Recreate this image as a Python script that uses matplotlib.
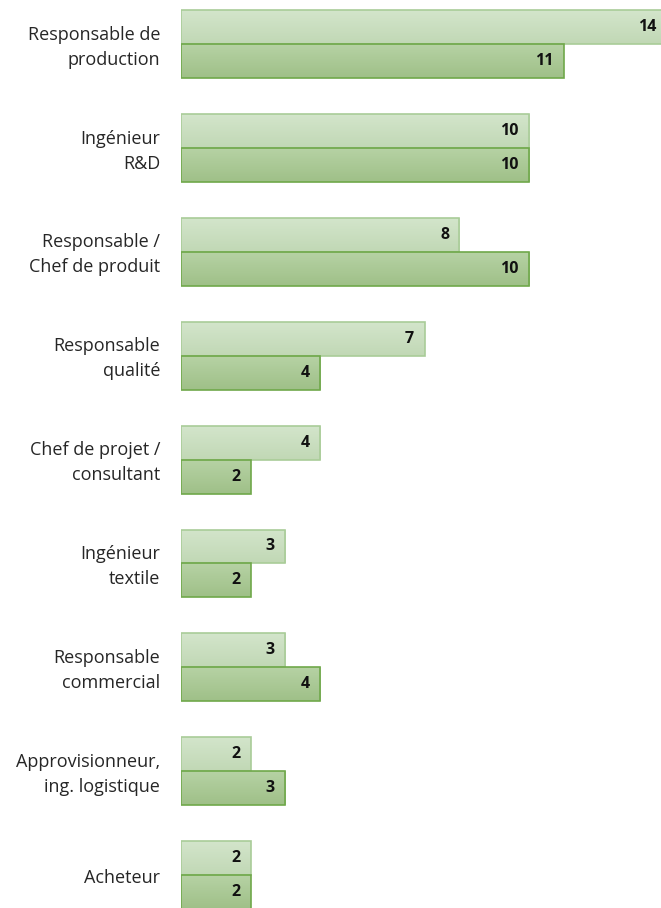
import matplotlib.pyplot as plt
import numpy as np
from matplotlib.colors import LinearSegmentedColormap

categories = ["Responsable de\nproduction", "Ingénieur\nR&D", "Responsable /\nChef de produit",
              "Responsable\nqualité", "Chef de projet /\nconsultant", "Ingénieur\ntextile",
              "Responsable\ncommercial", "Approvisionneur,\ning. logistique", "Acheteur"]
series_a = [14, 10, 8, 7, 4, 3, 3, 2, 2]
series_b = [11, 10, 10, 4, 2, 2, 4, 3, 2]

fig = plt.figure(figsize=(6.61, 9.08), dpi=100)
ax = fig.add_axes([181 / 661, 0, 480 / 661, 1])

y = np.arange(len(categories))
h = 0.327
light = LinearSegmentedColormap.from_list("light", ["#D3E5CB", "#C1D8B5"])
dark = LinearSegmentedColormap.from_list("dark", ["#B6D2A4", "#9FC088"])
grad = np.linspace(0, 1, 64).reshape(-1, 1)

bars_a = ax.barh(y - h / 2, series_a, height=h, color="none", edgecolor="#A9CC98", linewidth=1.2, zorder=3)
bars_b = ax.barh(y + h / 2, series_b, height=h, color="none", edgecolor="#6FA84A", linewidth=1.2, zorder=3)

# gradient fill inside each bar
for bars, cmap in ((bars_a, light), (bars_b, dark)):
    for b in bars:
        x0, y0, w, hh = b.get_x(), b.get_y(), b.get_width(), b.get_height()
        im = ax.imshow(grad, cmap=cmap, aspect="auto", extent=(x0, x0 + w, y0 + hh, y0),
                       origin="upper", zorder=2)
        im.set_clip_path(b)

for yi, v in zip(y, series_a):
    ax.text(min(v, 13.95) - 0.3, yi - h / 2, str(v), ha="right", va="center", fontsize=11.5,
            fontweight="bold", family="Open Sans", color="#111111", zorder=4)
for yi, v in zip(y, series_b):
    ax.text(v - 0.3, yi + h / 2, str(v), ha="right", va="center", fontsize=11.5,
            fontweight="bold", family="Open Sans", color="#111111", zorder=4)

for yi, c in zip(y, categories):
    ax.text(-0.6, yi + 0.03, c, ha="right", va="center", fontsize=13, family="Open Sans",
            color="#262626", linespacing=1.5, clip_on=False)

ax.set_xlim(0, 13.79)
ax.set_ylim(8.316, -0.4235)
ax.axis("off")

fig.savefig("out.png", dpi=100)
